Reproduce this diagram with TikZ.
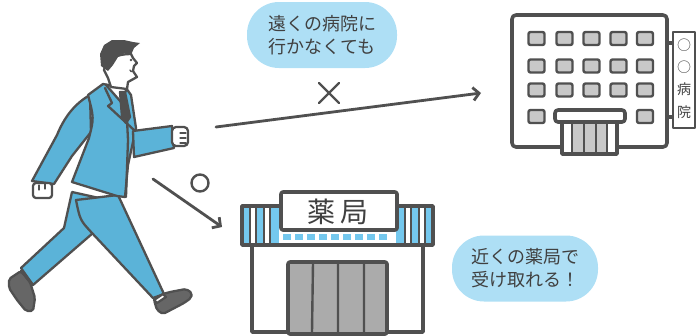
\documentclass[tikz,border=0pt]{standalone}
\usepackage{fontspec}
\newfontfamily\jp{Noto Sans CJK JP}
\usetikzlibrary{arrows.meta}
\definecolor{ink}{HTML}{505050}
\definecolor{suit}{HTML}{5BB3D8}
\definecolor{bubble}{HTML}{AEDFF5}
\definecolor{awning}{HTML}{74C8EE}
\definecolor{glass}{HTML}{ABABAB}
\definecolor{pane}{HTML}{C8C8C8}
\definecolor{shoe}{HTML}{666666}
\definecolor{txt}{HTML}{404040}
\begin{document}
\begin{tikzpicture}[x=1pt,y=-1pt,line join=round,line cap=round,
  outline/.style={draw=ink,line width=2.3pt},
  thick outline/.style={draw=ink,line width=3.6pt},
  suitpart/.style={outline,fill=suit},
  skin/.style={outline,fill=white},
  callout/.style={fill=bubble,rounded corners=32pt,minimum width=150pt,
    minimum height=66pt,align=center,text=txt,
    font=\jp\fontsize{18}{23}\selectfont},
  pointer/.style={draw=ink,line width=2.8pt,
    -{Straight Barb[length=6pt,width=13pt,line width=2.8pt]}},
  symbolstroke/.style={draw=ink,line width=2.4pt},
  signchar/.style={text=txt,font=\jp\fontsize{14}{14}\selectfont,inner sep=0},
  window/.style={draw=ink,line width=2.4pt,fill=pane,rounded corners=2pt}]
\useasboundingbox (0,0) rectangle (696,335);

% ---------- speech bubbles ----------
\node[callout] (far) at (322,35) {遠くの病院に\\行かなくても};
\node[callout,minimum width=146pt] (near) at (525,268.5) {近くの薬局で\\受け取れる！};

% ---------- walking man ----------
% trailing arm
\draw[suitpart] (90,95) .. controls (74,104) and (64,118) .. (57,135)
  -- (32,181) -- (54,184) -- (72,156) -- (91,132) -- cycle;
\draw[skin,rounded corners=3pt] (33,183) rectangle (52,198);
\draw[ink,line width=1.2pt] (39,185) -- (39,190) (45,184) -- (45,189);
% trailing leg and shoe
\draw[suitpart] (72,192) -- (64,228) -- (21,268) -- (33,285) -- (93,233)
  -- (108,200) -- cycle;
\draw[outline,fill=shoe,rounded corners=2pt] (9,279) -- (21,271) -- (30,282)
  -- (35,298) -- (33,311) -- (26,311) -- (17,300) -- (9,288) -- cycle;
\draw[outline,fill=white] (21,271) -- (30,282) -- (33,285) -- (24,274) -- cycle;
% leading leg and shoe
\draw[suitpart] (76,200) .. controls (80,220) .. (92,233) -- (153,298)
  -- (164,294) -- (118,195) -- cycle;
\draw[outline,fill=shoe,rounded corners=2pt] (154,300) -- (163,294) -- (170,292)
  -- (186,289) -- (192,293) -- (191,298) -- (184,303) -- (163,314)
  -- (157,310) -- cycle;
\draw[outline,fill=white] (154,300) -- (163,294) -- (166,297) -- (157,303) -- cycle;
% jacket
\draw[suitpart] (103,84) -- (88,95) .. controls (94,118) .. (89,138)
  -- (72,182) -- (117,196) -- (125,197) -- (128,165) -- (136,128)
  -- (131,95) -- (126,88) -- cycle;
\draw[outline] (126,100) -- (128,140) -- (126,197);
\draw[outline] (105,88) -- (112,103) -- (108,106) -- (134,130);
% shirt collar and tie
\draw[skin] (106,85) -- (127,88) -- (121,102) -- cycle;
\draw[outline,fill=ink] (120,92) -- (125,92) -- (130,117) -- (126,123)
  -- (122,117) -- cycle;
% leading arm and fist
\draw[suitpart] (133,131) -- (172,126) -- (174,148) -- (134,157) -- cycle;
\draw[skin,rounded corners=4pt] (172,127) rectangle (188,146);
\draw[ink,line width=1.2pt] (180,133) -- (186,133) (180,138) -- (186,138)
  (180,143) -- (186,143);
% head
\draw[skin] (104,70) .. controls (106,58) and (118,54) .. (131,54) -- (133,58)
  -- (137,63) -- (134,66) -- (133,71) -- (137,77) -- (128,82) -- (127,89)
  -- (111,87) -- (108,78) -- cycle;
\fill[ink] (101,66) -- (100,54) -- (104,45) -- (112,40) -- (124,40)
  -- (133,42) -- (140,43) -- (134,48) -- (131,55) -- (125,53) -- (118,57)
  -- (113,65) -- (108,71) -- cycle;
\fill[ink] (131,60) circle (1.3);
\draw[ink,line width=1.3pt] (130,70) .. controls (131,72) .. (133,71);

% ---------- arrows and marks ----------
\coordinate (farStart) at (216,127);
\coordinate (farEnd) at (481,93);
\coordinate (nearStart) at (153,179);
\coordinate (nearEnd) at (222,227);
\draw[pointer] (farStart) -- (farEnd);
\draw[pointer] (nearStart) -- (nearEnd);
\draw[symbolstroke] (319,83) -- (339,103) (339,83) -- (319,103);
\draw[symbolstroke] (200,183) circle (8.5);

% ---------- hospital ----------
\draw[thick outline,fill=white,rounded corners=4pt] (512,15) rectangle (667,147);
\foreach \x in {536.5,564.5,591.5,618.5,645} {
  \foreach \y in {38.5,66,90} {
    \draw[window] (\x-8,\y-6.5) rectangle (\x+8,\y+6.5);
  }
}
\foreach \x in {536.5,645}
  \draw[window] (\x-8,116.5-6.5) rectangle (\x+8,116.5+6.5);
% entrance
\draw[thick outline,fill=white] (562,120) rectangle (617,154);
\fill[pane] (572,122) rectangle (607,152);
\draw[ink,line width=1.8pt] (572,122) -- (572,153) (607,122) -- (607,153)
  (584,122) -- (584,153) (596,122) -- (596,153);
\draw[thick outline,fill=white,rounded corners=3pt] (555,110) rectangle (625,122);
% vertical sign
\draw[thick outline] (667,43) -- (673,43) (667,117) -- (673,117);
\draw[outline,line width=2.6pt,fill=white] (673,32) rectangle (695,128);
\node[signchar] (signA) at (684,45) {○};
\node[signchar] (signB) at (684,67) {○};
\node[signchar] (signC) at (684,89) {病};
\node[signchar] (signD) at (684,112) {院};

% ---------- pharmacy ----------
\draw[thick outline,fill=white] (252,240) -- (252,332) -- (423,332) -- (423,240);
% awning
\draw[thick outline,fill=white] (242,206) rectangle (433,245);
\foreach \a/\b in {244/250,256/264,270/279,396/405,411/419,425/431}
  \fill[awning] (\a,208) rectangle (\b,243);
\draw[ink,line width=1.6pt] (250,207) -- (250,244) (256,207) -- (256,244)
  (264,207) -- (264,244) (270,207) -- (270,244)
  (405,207) -- (405,244) (411,207) -- (411,244)
  (419,207) -- (419,244) (425,207) -- (425,244);
\foreach \a in {283,295,307,319,331,343,355,367,379}
  \fill[awning] (\a,234) rectangle (\a+8,240);
\draw[thick outline,fill=white,rounded corners=2pt] (281,192) rectangle (397,230);
\node[text=txt,font=\jp\fontsize{28}{28}\selectfont,inner sep=0] (signKyoku) at (338,212) {薬\,局};
% doorway
\draw[thick outline,fill=glass,rounded corners=2pt] (288,262) rectangle (387,334);
\draw[ink,line width=2.4pt] (313,263) -- (312,332) (338,263) -- (338,332)
  (364,263) -- (364,332);
\end{tikzpicture}
\end{document}
